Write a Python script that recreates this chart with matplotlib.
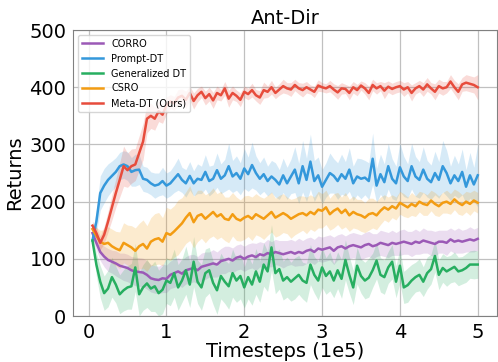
import numpy as np
import matplotlib
matplotlib.use("Agg")
import matplotlib.pyplot as plt

# timesteps (1e5)
steps = np.arange(1, 101) * 0.05

labels = ["CORRO", "Prompt-DT", "Generalized DT", "CSRO", "Meta-DT (Ours)"]
colors = ["#9b59b6", "#3498db", "#27ae60", "#f39c12", "#e74c3c"]

corro_mean = [145, 128, 112, 104, 98, 95, 92, 88, 86, 84,
              80, 78, 77, 76, 72, 66, 64, 63, 66, 65,
              72, 75, 78, 74, 80, 82, 84, 80, 86, 88,
              90, 92, 90, 96, 98, 100, 97, 102, 104, 100,
              104, 106, 103, 108, 106, 110, 108, 112, 110, 108,
              110, 112, 109, 112, 110, 114, 116, 112, 118, 116,
              118, 120, 114, 120, 122, 118, 122, 124, 122, 120,
              124, 126, 122, 124, 128, 126, 124, 128, 126, 128,
              130, 128, 126, 130, 128, 132, 130, 128, 126, 130,
              130, 128, 134, 130, 132, 130, 132, 134, 132, 135]
corro_std = [8, 12, 15, 18, 20, 20, 22, 22, 24, 24,
             24, 25, 25, 25, 25, 24, 24, 24, 25, 24,
             24, 25, 24, 24, 24, 25, 24, 24, 24, 24,
             22, 24, 22, 22, 24, 22, 22, 22, 22, 22,
             22, 22, 24, 22, 22, 24, 22, 22, 22, 24,
             22, 22, 22, 24, 22, 22, 22, 22, 22, 22,
             22, 22, 24, 22, 22, 22, 22, 22, 22, 22,
             22, 22, 22, 20, 22, 22, 22, 22, 20, 22,
             22, 20, 22, 22, 20, 22, 20, 22, 22, 20,
             20, 22, 20, 20, 22, 20, 20, 22, 20, 20]

prompt_mean = [132, 165, 215, 228, 238, 245, 252, 262, 265, 262,
               252, 255, 256, 240, 238, 232, 228, 230, 236, 228,
               232, 240, 248, 238, 232, 245, 232, 240, 238, 252,
               236, 240, 255, 240, 246, 262, 244, 250, 240, 258,
               248, 264, 250, 240, 248, 236, 244, 238, 230, 246,
               232, 244, 256, 232, 262, 238, 270, 236, 246, 226,
               238, 250, 245, 236, 248, 240, 256, 232, 244, 240,
               242, 236, 275, 228, 248, 234, 262, 240, 232, 260,
               244, 236, 262, 244, 238, 256, 240, 234, 250, 238,
               262, 250, 232, 246, 236, 252, 226, 246, 230, 246]
prompt_std = [10, 20, 30, 30, 28, 26, 25, 24, 24, 25,
              25, 28, 26, 22, 22, 20, 22, 20, 24, 22,
              22, 24, 28, 22, 24, 25, 22, 26, 24, 30,
              26, 24, 30, 26, 28, 40, 28, 30, 28, 35,
              30, 40, 30, 28, 30, 26, 28, 30, 26, 30,
              28, 30, 40, 35, 45, 38, 48, 36, 32, 30,
              30, 35, 30, 32, 35, 30, 38, 30, 32, 35,
              30, 32, 45, 30, 35, 32, 40, 35, 30, 42,
              35, 30, 40, 35, 32, 40, 32, 30, 38, 32,
              45, 40, 30, 35, 30, 40, 30, 40, 30, 55]

gdt_mean = [132, 90, 60, 40, 48, 68, 55, 38, 45, 50,
            52, 85, 38, 50, 57, 48, 52, 40, 46, 62,
            58, 75, 50, 62, 80, 55, 95, 60, 50, 75,
            80, 58, 45, 70, 60, 52, 75, 62, 70, 50,
            68, 55, 78, 60, 90, 78, 120, 75, 82, 62,
            68, 60, 66, 72, 62, 58, 90, 72, 62, 85,
            70, 78, 62, 80, 65, 98, 72, 50, 88, 70,
            62, 67, 80, 97, 72, 68, 85, 95, 60, 88,
            50, 54, 62, 68, 72, 60, 75, 82, 105, 72,
            84, 78, 82, 86, 78, 80, 84, 90, 90, 90]
gdt_std = [10, 20, 28, 30, 32, 35, 32, 34, 36, 38,
           40, 42, 38, 40, 42, 40, 44, 40, 42, 40,
           40, 42, 40, 38, 42, 40, 44, 38, 40, 42,
           40, 38, 42, 40, 38, 40, 42, 38, 40, 36,
           38, 36, 40, 36, 38, 35, 40, 36, 35, 34,
           35, 34, 36, 34, 32, 34, 35, 32, 34, 35,
           32, 34, 30, 32, 34, 35, 32, 30, 32, 30,
           32, 34, 30, 32, 30, 30, 28, 30, 28, 30,
           28, 30, 28, 26, 28, 26, 28, 26, 28, 26,
           25, 26, 24, 26, 25, 24, 25, 24, 25, 24]

csro_mean = [152, 140, 130, 126, 128, 122, 118, 115, 128, 124,
             120, 114, 122, 126, 118, 130, 134, 136, 130, 145,
             142, 148, 155, 162, 172, 180, 164, 175, 178, 170,
             176, 182, 174, 178, 170, 168, 178, 170, 167, 172,
             175, 170, 178, 174, 170, 176, 182, 172, 176, 180,
             176, 170, 174, 178, 180, 176, 182, 178, 186, 184,
             190, 178, 184, 188, 180, 186, 176, 182, 178, 176,
             172, 178, 180, 176, 184, 190, 186, 192, 188, 198,
             194, 190, 196, 192, 200, 196, 194, 202, 196, 192,
             198, 200, 196, 204, 198, 194, 200, 196, 202, 198]
csro_std = [10, 15, 20, 25, 28, 30, 30, 32, 35, 35,
            38, 40, 40, 42, 40, 42, 45, 45, 42, 45,
            45, 45, 48, 45, 45, 48, 45, 45, 42, 42,
            40, 42, 40, 40, 38, 40, 38, 38, 36, 38,
            36, 38, 36, 35, 36, 35, 35, 34, 35, 34,
            32, 34, 32, 32, 30, 32, 30, 30, 32, 30,
            30, 28, 30, 28, 28, 30, 28, 28, 26, 28,
            26, 28, 26, 25, 24, 22, 22, 20, 20, 20,
            20, 18, 20, 18, 18, 20, 18, 18, 20, 18,
            18, 20, 18, 18, 20, 18, 18, 20, 18, 18]

metadt_mean = [158, 145, 128, 142, 165, 190, 215, 238, 262, 255,
               262, 265, 285, 305, 345, 350, 345, 358, 352, 368,
               375, 372, 382, 385, 378, 390, 376, 386, 392, 381,
               388, 377, 390, 386, 398, 380, 390, 385, 378, 392,
               388, 395, 386, 382, 395, 392, 400, 390, 396, 402,
               398, 396, 404, 398, 395, 400, 396, 392, 403, 400,
               398, 402, 396, 391, 398, 397, 390, 400, 395, 403,
               398, 390, 404, 398, 402, 394, 401, 397, 400, 402,
               396, 400, 390, 398, 402, 396, 405, 398, 392, 402,
               398, 400, 410, 400, 392, 405, 408, 406, 404, 400]
metadt_std = [8, 10, 12, 15, 18, 22, 25, 30, 35, 30,
              30, 28, 30, 32, 25, 22, 20, 18, 15, 15,
              12, 12, 14, 12, 15, 12, 14, 12, 10, 12,
              12, 14, 12, 10, 12, 15, 12, 10, 12, 10,
              10, 12, 10, 12, 14, 10, 12, 10, 10, 12,
              10, 12, 10, 10, 12, 10, 8, 10, 10, 8,
              8, 10, 10, 12, 10, 8, 12, 10, 10, 8,
              10, 12, 10, 10, 8, 14, 10, 10, 10, 10,
              12, 10, 14, 10, 10, 12, 12, 10, 14, 12,
              12, 10, 12, 12, 14, 12, 14, 14, 14, 22]

means = [corro_mean, prompt_mean, gdt_mean, csro_mean, metadt_mean]
stds = [corro_std, prompt_std, gdt_std, csro_std, metadt_std]

fig, ax = plt.subplots(figsize=(4.98, 3.62), dpi=100)
fig.subplots_adjust(left=0.147, right=0.998, bottom=0.127, top=0.917)

for lab, c, m, s in zip(labels, colors, means, stds):
    m = np.array(m, dtype=float)
    s = np.array(s, dtype=float)
    ax.plot(steps, m, color=c, lw=1.8, label=lab)
    ax.fill_between(steps, m - s, m + s, color=c, alpha=0.2, lw=0)

ax.set_ylim(0, 500)
ax.set_xticks([0, 1, 2, 3, 4, 5])
ax.set_yticks([0, 100, 200, 300, 400, 500])
ax.grid(True, color="#c0c0c0", lw=0.9)
ax.set_axisbelow(True)
for sp in ax.spines.values():
    sp.set_color("#808080")
ax.tick_params(labelsize=14, length=0, pad=5)
ax.set_xlabel("Timesteps (1e5)", fontsize=14, labelpad=0)
ax.set_ylabel("Returns", fontsize=14, labelpad=4)
ax.set_title("Ant-Dir", fontsize=14, pad=4)
ax.legend(loc="upper left", fontsize=7, handlelength=2.2)

fig.savefig("out.png", dpi=100)
